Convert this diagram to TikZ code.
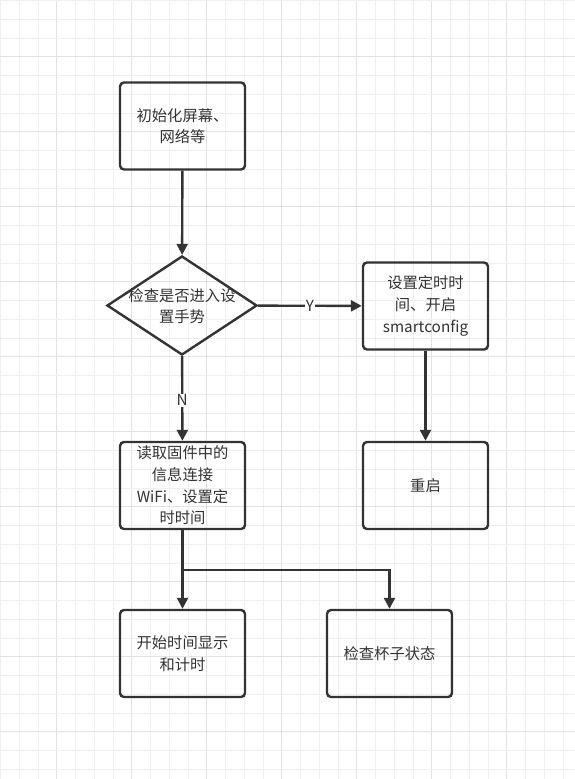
\documentclass[tikz,border=0pt]{standalone}
\usepackage{fontspec}
\setmainfont{Noto Sans CJK SC}
\usetikzlibrary{arrows.meta,shapes.geometric}
\definecolor{ink}{HTML}{333333}
\definecolor{gridminor}{HTML}{EFEFEF}
\definecolor{gridmajor}{HTML}{E2E2E2}
\tikzset{
  box/.style={draw=ink, line width=2.4pt, rounded corners=4pt, minimum width=125pt, minimum height=87pt, inner sep=0pt, align=center, text=ink, font=\fontsize{15.3}{21.6}\selectfont},
  dia/.style={draw=ink, line width=2.4pt, shape=diamond, minimum width=150pt, minimum height=99pt, inner sep=0pt, aspect=1.515},
  txt/.style={align=center, text=ink, font=\fontsize{15.3}{21.6}\selectfont, inner sep=0pt},
  arr/.style={draw=ink, line width=2.4pt, -{Triangle[length=11pt,width=11pt]}},
  lbl/.style={fill=white, text=ink, font=\fontsize{15.3}{16}\selectfont, inner sep=1pt}
}
\begin{document}
\begin{tikzpicture}[x=1pt,y=-1pt]
\fill[white] (0,0) rectangle (575,779);
\useasboundingbox (0,0) rectangle (575,779);
\foreach \k in {0,...,30} {
  \pgfmathsetmacro{\p}{0.7+18.75*\k}
  \pgfmathtruncatemacro{\m}{mod(\k,4)}
  \ifnum\m=3
    \draw[gridmajor, line width=1pt] (\p,0) -- (\p,779);
  \else
    \draw[gridminor, line width=1pt] (\p,0) -- (\p,779);
  \fi
}
\foreach \k in {0,...,41} {
  \pgfmathsetmacro{\p}{0.7+18.75*\k}
  \pgfmathtruncatemacro{\m}{mod(\k,4)}
  \ifnum\m=3
    \draw[gridmajor, line width=1pt] (0,\p) -- (575,\p);
  \else
    \draw[gridminor, line width=1pt] (0,\p) -- (575,\p);
  \fi
}
\node[box] (init) at (182.5,126) {初始化屏幕、\\网络等};
\node[dia] (check) at (182,305.5) {};
\node[txt] (checkt) at (182,306) {检查是否进入设\\置手势};
\node[box] (setup) at (425.5,306) {设置定时时\\间、开启\\smartconfig};
\node[box] (reboot) at (425.5,485.5) {重启};
\node[box] (read) at (182.5,485.5) {读取固件中的\\信息连接\\WiFi、设置定\\时时间};
\node[box] (start) at (182.5,653.5) {开始时间显示\\和计时};
\node[box] (cup) at (389.5,653.5) {检查杯子状态};
\coordinate (split) at (182.5,570);
\coordinate (splitr) at (389.5,570);
\draw[arr] (init) -- (check);
\draw[arr] (check) -- node[lbl] (ylab) {Y} (setup);
\draw[arr] (check) -- node[lbl, pos=0.52] (nlab) {N} (read);
\draw[arr] (setup) -- (reboot);
\draw[arr] (read) -- (start);
\draw[arr] (split) -- (splitr) -- (cup);
\end{tikzpicture}
\end{document}
